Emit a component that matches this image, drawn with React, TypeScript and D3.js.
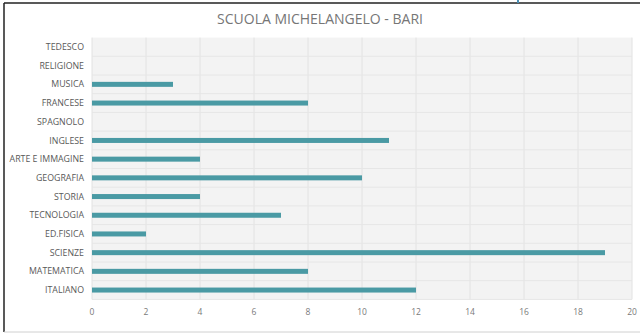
import React from "react";
import * as d3 from "d3";

const subjects = [
  "TEDESCO", "RELIGIONE", "MUSICA", "FRANCESE", "SPAGNOLO", "INGLESE",
  "ARTE E IMMAGINE", "GEOGRAFIA", "STORIA", "TECNOLOGIA", "ED.FISICA",
  "SCIENZE", "MATEMATICA", "ITALIANO",
];
const counts = [0, 0, 3, 8, 0, 11, 4, 10, 4, 7, 2, 19, 8, 12];
const xTicks = [0, 2, 4, 6, 8, 10, 12, 14, 16, 18, 20];
const title = "SCUOLA MICHELANGELO - BARI";

const W = 640;
const H = 336;
const plot = { left: 92, right: 632, top: 37.6, bottom: 299.4 };

export default function App() {
  const x = d3.scaleLinear().domain([0, 20]).range([plot.left, plot.right]);
  const y = d3
    .scaleBand<string>()
    .domain(subjects)
    .range([plot.top, plot.bottom]);
  const barH = 5;
  const font = "'Open Sans', 'Liberation Sans', sans-serif";

  return (
    <svg
      width={W}
      height={H}
      style={{ position: "absolute", left: 0, top: 0, background: "#fff" }}
    >
      {/* frame */}
      <line x1={4} y1={3} x2={W} y2={3} stroke="#222" strokeWidth={1.5} />
      <line x1={4} y1={3} x2={4} y2={332} stroke="#222" strokeWidth={1.5} />
      <line x1={4} y1={332} x2={W} y2={332} stroke="#d0d0d0" strokeWidth={1} />
      <line x1={518} y1={0} x2={518} y2={3} stroke="#4a8fb5" strokeWidth={2} />

      <text
        x={W / 2}
        y={24}
        textAnchor="middle"
        fontFamily={font}
        fontSize={14}
        fill="#767676"
      >
        {title}
      </text>

      {/* plot background */}
      <rect
        x={plot.left}
        y={plot.top}
        width={plot.right - plot.left}
        height={plot.bottom - plot.top}
        fill="#f3f3f3"
      />
      {xTicks.map((t) => (
        <line
          key={"gx" + t}
          x1={x(t)}
          x2={x(t)}
          y1={plot.top}
          y2={plot.bottom}
          stroke="#e2e2e2"
          strokeWidth={1}
        />
      ))}
      {subjects.map((s) => (
        <line
          key={"gy" + s}
          x1={plot.left}
          x2={plot.right}
          y1={(y(s) as number) + y.bandwidth()}
          y2={(y(s) as number) + y.bandwidth()}
          stroke="#e6e6e6"
          strokeWidth={1}
        />
      ))}

      {/* bars */}
      {subjects.map((s, i) => (
        <rect
          key={"b" + s}
          x={x(0)}
          y={(y(s) as number) + y.bandwidth() / 2 - barH / 2}
          width={x(counts[i]) - x(0)}
          height={barH}
          fill="#4a9aa4"
        />
      ))}

      {/* category labels */}
      {subjects.map((s) => (
        <text
          key={"l" + s}
          x={plot.left - 8}
          y={(y(s) as number) + y.bandwidth() / 2}
          dy="0.35em"
          textAnchor="end"
          fontFamily={font}
          fontSize={8.8}
          fill="#595959"
        >
          {s}
        </text>
      ))}

      {/* x tick labels */}
      {xTicks.map((t) => (
        <text
          key={"t" + t}
          x={x(t)}
          y={312}
          dy="0.35em"
          textAnchor="middle"
          fontFamily={font}
          fontSize={8.5}
          fill="#7a7a7a"
        >
          {t}
        </text>
      ))}
    </svg>
  );
}
